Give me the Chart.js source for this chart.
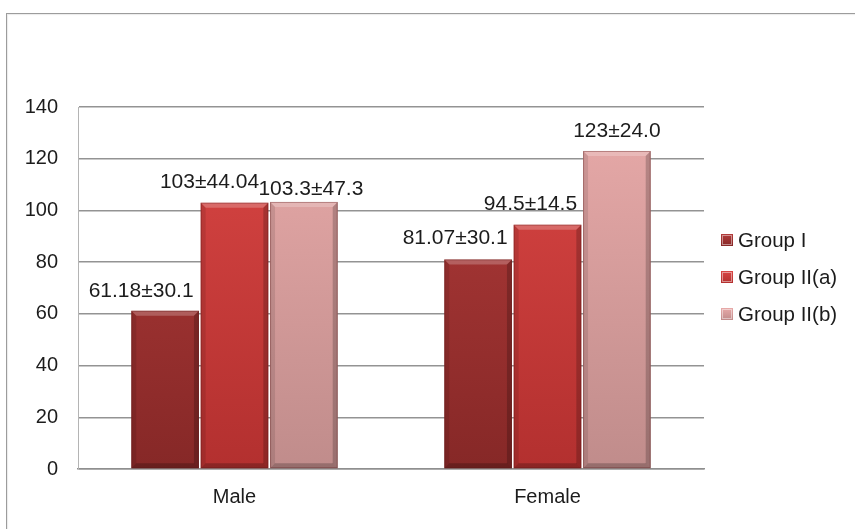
<!DOCTYPE html>
<html>
<head>
<meta charset="utf-8">
<script src="https://cdn.jsdelivr.net/npm/chart.js@4/dist/chart.umd.min.js"></script>
<style>
  html, body { margin: 0; padding: 0; background: #ffffff; }
  #wrap { position: relative; width: 855px; height: 529px; overflow: hidden; }
  #frame {
    position: absolute; left: 6px; top: 13px; width: 1000px; height: 700px;
    border-left: 1px solid #9c9c9c; border-top: 1px solid #9c9c9c;
    box-shadow: inset 1px 1px 1px rgba(0,0,0,0.08);
    pointer-events: none;
  }
  canvas { position: absolute; left: 0; top: 0; }
</style>
</head>
<body>
<div id="wrap">
  <div id="frame"></div>
  <canvas id="chart" width="855" height="529"></canvas>
</div>
<script>
// Mean values per sex, with the standard deviation shown in each label
const categories = ['Male', 'Female'];
const seriesNames = ['Group I', 'Group II(a)', 'Group II(b)'];
const groupI = [61.18, 81.07];
const groupIIa = [103, 94.5];
const groupIIb = [103.3, 123];
const groupISd = ['30.1', '30.1'];
const groupIIaSd = ['44.04', '14.5'];
const groupIIbSd = ['47.3', '24.0'];
const yMin = 0, yMax = 140, yStep = 20;

// Fill shades per series: [top, bottom]
const shades = [
  ['#b23b3a', '#862827'],
  ['#d94644', '#b3302f'],
  ['#e8aaa9', '#c08c8b']
];
// Label placement tweaks per series and category: [dx, dy] from the bar's top centre (px)
const labelNudge = [
  [[-24, -20], [-23, -21]],
  [[-25, -20], [-17, -20]],
  [[7, -13], [0, -20]]
];

const FONT = "'Liberation Sans', Arial, sans-serif";

function barFill(idx) {
  return (ctx) => {
    const area = ctx.chart.chartArea;
    if (!area) return shades[idx][0];
    const g = ctx.chart.ctx.createLinearGradient(0, area.top, 0, area.bottom);
    g.addColorStop(0, shades[idx][0]);
    g.addColorStop(1, shades[idx][1]);
    return g;
  };
}

// Bevelled edges drawn over each bar
const bevel = {
  id: 'bevel',
  afterDatasetsDraw(chart) {
    const c = chart.ctx;
    chart.data.datasets.forEach((ds, di) => {
      chart.getDatasetMeta(di).data.forEach((bar) => {
        const w = bar.width, l = bar.x - w / 2, r = bar.x + w / 2;
        const t = bar.y, b = bar.base, e = 5;
        c.save();
        // top face
        c.fillStyle = 'rgba(255,255,255,0.22)';
        c.beginPath();
        c.moveTo(l, t); c.lineTo(r, t); c.lineTo(r - e, t + e); c.lineTo(l + e, t + e);
        c.closePath(); c.fill();
        // left face
        c.fillStyle = 'rgba(0,0,0,0.10)';
        c.beginPath();
        c.moveTo(l, t); c.lineTo(l + e, t + e); c.lineTo(l + e, b - e); c.lineTo(l, b);
        c.closePath(); c.fill();
        // right face
        c.fillStyle = 'rgba(0,0,0,0.20)';
        c.beginPath();
        c.moveTo(r, t); c.lineTo(r - e, t + e); c.lineTo(r - e, b - e); c.lineTo(r, b);
        c.closePath(); c.fill();
        // bottom face
        c.fillStyle = 'rgba(0,0,0,0.22)';
        c.beginPath();
        c.moveTo(l, b); c.lineTo(l + e, b - e); c.lineTo(r - e, b - e); c.lineTo(r, b);
        c.closePath(); c.fill();
        // outline
        c.strokeStyle = 'rgba(90,20,20,0.35)';
        c.lineWidth = 1;
        c.strokeRect(l + 0.5, t + 0.5, w - 1, b - t - 1);
        c.restore();
      });
    });
  }
};

// Mean±SD text above each bar
const valueLabels = {
  id: 'valueLabels',
  afterDatasetsDraw(chart) {
    const c = chart.ctx;
    c.save();
    c.font = '21px ' + FONT;
    c.fillStyle = '#1c1c1c';
    c.textAlign = 'center';
    c.textBaseline = 'middle';
    chart.data.datasets.forEach((ds, di) => {
      chart.getDatasetMeta(di).data.forEach((bar, i) => {
        const text = String(ds.data[i]) + '\u00B1' + ds.sd[i];
        const [dx, dy] = labelNudge[di][i];
        c.fillText(text, bar.x + dx, bar.y + dy);
      });
    });
    c.restore();
  }
};

// Legend column to the right of the plot
const sideLegend = {
  id: 'sideLegend',
  afterDraw(chart) {
    const c = chart.ctx;
    const x0 = chart.chartArea.right + 17;
    const y0 = 240, gap = 37, box = 12;
    c.save();
    c.font = '20.5px ' + FONT;
    c.textBaseline = 'middle';
    c.textAlign = 'left';
    chart.data.datasets.forEach((ds, di) => {
      const y = y0 + di * gap;
      const g = c.createLinearGradient(0, y - box / 2, 0, y + box / 2);
      g.addColorStop(0, shades[di][0]);
      g.addColorStop(1, shades[di][1]);
      c.fillStyle = g;
      c.fillRect(x0, y - box / 2, box, box);
      c.strokeStyle = 'rgba(255,255,255,0.45)';
      c.lineWidth = 1;
      c.strokeRect(x0 + 1.5, y - box / 2 + 1.5, box - 3, box - 3);
      c.fillStyle = '#1c1c1c';
      c.fillText(ds.label, x0 + box + 5, y + 1);
    });
    c.restore();
  }
};

new Chart(document.getElementById('chart'), {
  type: 'bar',
  data: {
    labels: categories,
    datasets: [
      { label: seriesNames[0], data: groupI, sd: groupISd, backgroundColor: barFill(0) },
      { label: seriesNames[1], data: groupIIa, sd: groupIIaSd, backgroundColor: barFill(1) },
      { label: seriesNames[2], data: groupIIb, sd: groupIIbSd, backgroundColor: barFill(2) }
    ]
  },
  options: {
    responsive: false,
    animation: false,
    events: [],
    layout: { padding: { left: 0, top: 107, right: 151, bottom: 0 } },
    datasets: { bar: { categoryPercentage: 0.665, barPercentage: 0.975 } },
    plugins: { legend: { display: false }, tooltip: { enabled: false } },
    scales: {
      x: {
        grid: { display: false, drawTicks: false },
        border: { display: true, color: '#8f8f8f', width: 1.5 },
        ticks: { color: '#1c1c1c', font: { family: FONT, size: 20 }, padding: 16 },
        afterFit(scale) { scale.height = 60; }
      },
      y: {
        min: yMin, max: yMax,
        grid: { color: '#939393', lineWidth: 1.5, drawTicks: false },
        border: { display: true, color: '#b4b4b4', width: 1 },
        ticks: { stepSize: yStep, color: '#1c1c1c', font: { family: FONT, size: 20 }, padding: 20 },
        afterFit(scale) { scale.width = 78; }
      }
    }
  },
  plugins: [bevel, valueLabels, sideLegend]
});
</script>
</body>
</html>
